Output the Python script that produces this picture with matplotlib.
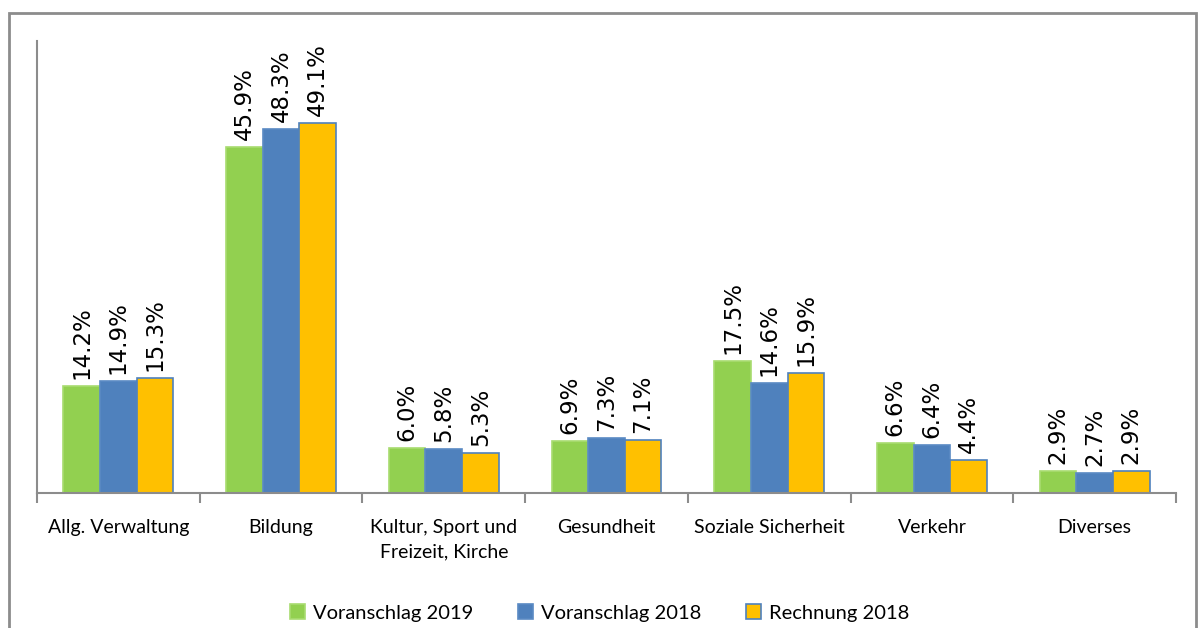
import matplotlib
matplotlib.use("Agg")
import matplotlib.pyplot as plt
import numpy as np
from matplotlib.patches import Rectangle

categories = ["Allg. Verwaltung", "Bildung", "Kultur, Sport und\nFreizeit, Kirche",
              "Gesundheit", "Soziale Sicherheit", "Verkehr", "Diverses"]
voranschlag_2019 = [14.2, 45.9, 6.0, 6.9, 17.5, 6.6, 2.9]
voranschlag_2018 = [14.9, 48.3, 5.8, 7.3, 14.6, 6.4, 2.7]
rechnung_2018 = [15.3, 49.1, 5.3, 7.1, 15.9, 4.4, 2.9]
series_names = ["Voranschlag 2019", "Voranschlag 2018", "Rechnung 2018"]

W, H = 1199, 628
fig = plt.figure(figsize=(W / 100, H / 100), dpi=100)
ax = fig.add_axes([37 / W, 1 - 493 / H, (1176 - 37) / W, (493 - 41) / H])

# outer chart border (bottom runs off the image)
fig.patches.append(Rectangle((9 / W, -0.05), (1196 - 9) / W, 1.05 - 13 / H, transform=fig.transFigure,
                             fill=False, edgecolor="#8c8c8c", linewidth=2.0))

x = np.arange(len(categories))
bw = 0.225
colors = ["#92D050", "#4F81BD", "#FFC000"]
edges = ["#a8dc70", "#5a8ac4", "#4F81BD"]
data = [voranschlag_2019, voranschlag_2018, rechnung_2018]
for i, (vals, c, e, name) in enumerate(zip(data, colors, edges, series_names)):
    pos = x + (i - 1) * bw
    ax.bar(pos, vals, width=bw, color=c, edgecolor=e, linewidth=1.2, label=name)
    for p, v in zip(pos, vals):
        ax.annotate(f"{v:.1f}%", (p, v), xytext=(0, 5), textcoords="offset points",
                    rotation=90, ha="center", va="bottom", fontsize=16.5,
                    family="DejaVu Sans", color="#000000")

ax.set_xlim(-0.5, len(categories) - 0.5)
ax.set_ylim(0, 60)
ax.set_yticks([])
for s in ["top", "right"]:
    ax.spines[s].set_visible(False)
ax.spines["left"].set_color("#8c8c8c")
ax.spines["bottom"].set_color("#8c8c8c")
ax.spines["left"].set_linewidth(1.5)
ax.spines["bottom"].set_linewidth(1.5)

ax.set_xticks(np.arange(len(categories) + 1) - 0.5)
ax.set_xticklabels([])
ax.tick_params(axis="x", which="major", length=7, width=1.5, color="#8c8c8c", direction="out")
ax.set_xticks(x, minor=True)
ax.set_xticklabels(categories, minor=True, fontsize=14, family="Lato", color="#000000",
                   linespacing=1.5, va="top")
ax.tick_params(axis="x", which="minor", length=0, pad=19)

handles, labels = ax.get_legend_handles_labels()
leg = fig.legend(handles, labels, loc="center", bbox_to_anchor=(0.5, 1 - 613 / H), ncol=3,
                 frameon=False, prop={"family": "Lato", "size": 14.5}, handlelength=0.75,
                 handleheight=0.75, columnspacing=2.2, handletextpad=0.4)

fig.savefig("out.png", dpi=100)
